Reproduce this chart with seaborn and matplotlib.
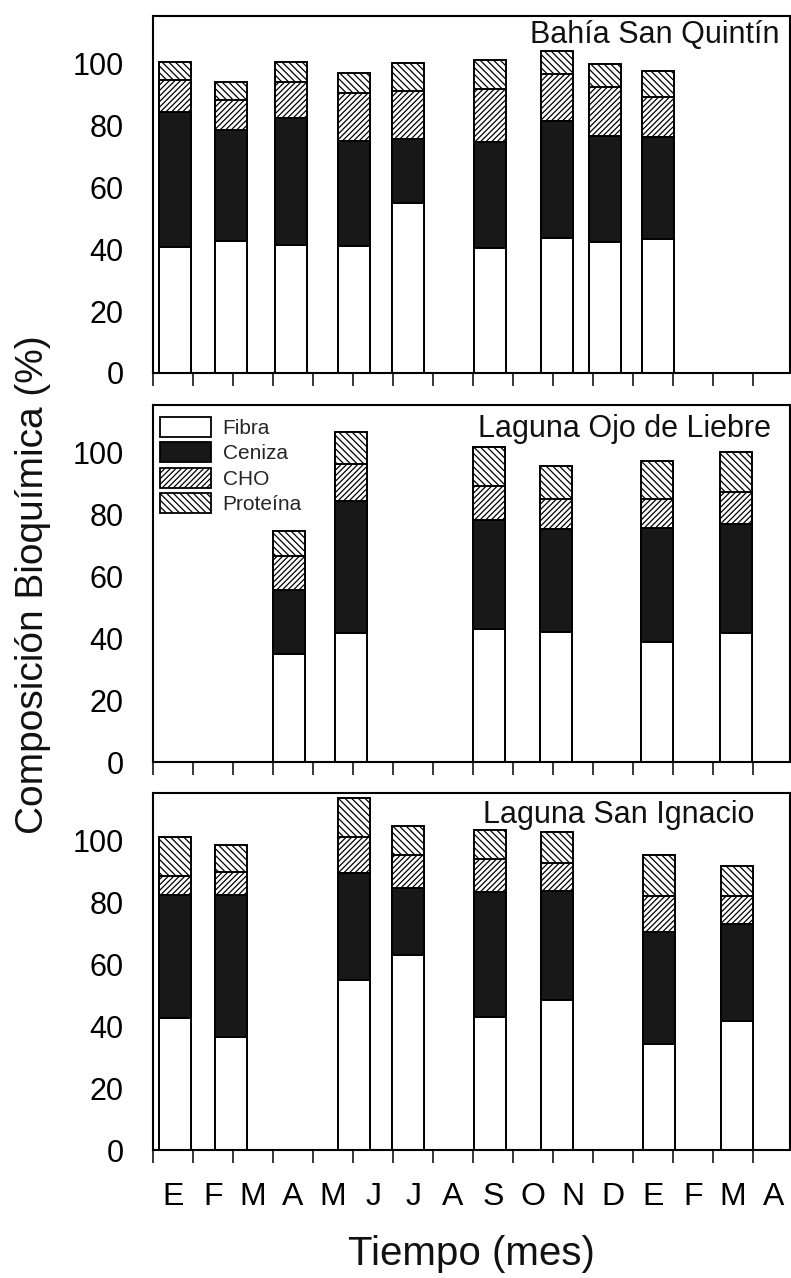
import numpy as np
import pandas as pd
import matplotlib
matplotlib.use("Agg")
import matplotlib.pyplot as plt
from matplotlib.patches import Patch
import seaborn as sns

# Month labels for the 16-month sampling period (Jan of year 1 to Apr of year 2)
meses = ["E", "F", "M", "A", "M", "J", "J", "A", "S", "O", "N", "D", "E", "F", "M", "A"]

componentes = ["Fibra", "Ceniza", "CHO", "Proteína"]

# Bahía San Quintín: sampling time (months from start) and composition (%)
bsq_t = [0.54, 1.96, 3.44, 5.02, 6.37, 8.42, 10.1, 11.3, 12.63]
bsq_fibra = [40.5, 42.7, 41.3, 40.9, 54.7, 40.3, 43.5, 42.4, 43.2]
bsq_ceniza = [43.8, 35.7, 41.0, 34.1, 20.8, 34.4, 37.9, 34.2, 32.8]
bsq_cho = [10.3, 9.8, 11.5, 15.5, 15.4, 16.9, 15.1, 15.8, 13.2]
bsq_prot = [5.8, 5.8, 6.6, 6.4, 9.1, 9.4, 7.5, 7.3, 8.1]

# Laguna Ojo de Liebre
lol_t = [3.39, 4.96, 8.40, 10.08, 12.60, 14.56]
lol_fibra = [34.7, 41.5, 42.8, 41.9, 38.8, 41.7]
lol_ceniza = [20.9, 42.7, 35.4, 33.4, 36.7, 35.0]
lol_cho = [10.8, 12.0, 10.9, 9.7, 9.5, 10.3]
lol_prot = [8.1, 10.3, 12.5, 10.6, 12.2, 13.1]

# Laguna San Ignacio
lsi_t = [0.54, 1.96, 5.02, 6.37, 8.43, 10.1, 12.64, 14.6]
lsi_fibra = [42.7, 36.4, 54.7, 62.8, 42.9, 48.5, 34.1, 41.6]
lsi_ceniza = [39.5, 46.0, 34.8, 21.6, 40.4, 35.0, 36.1, 31.2]
lsi_cho = [6.2, 7.4, 11.4, 10.8, 10.5, 9.0, 11.7, 9.1]
lsi_prot = [12.5, 8.6, 12.6, 9.4, 9.4, 10.2, 13.3, 9.7]

sitios = [
    ("Bahía San Quintín", bsq_t, bsq_fibra, bsq_ceniza, bsq_cho, bsq_prot),
    ("Laguna Ojo de Liebre", lol_t, lol_fibra, lol_ceniza, lol_cho, lol_prot),
    ("Laguna San Ignacio", lsi_t, lsi_fibra, lsi_ceniza, lsi_cho, lsi_prot),
]

sns.set_theme(style="white")
plt.rcParams["font.family"] = ["Liberation Sans", "DejaVu Sans"]
plt.rcParams["hatch.linewidth"] = 0.9
plt.rcParams["axes.edgecolor"] = "black"

W, H = 791, 1278
fig = plt.figure(figsize=(W / 100, H / 100), dpi=100)

left_px, right_px = 153, 790
panel_px = [(16, 373), (405, 762), (793, 1150)]
title_pos = [(0.984, 0.924), (0.970, 0.910), (0.944, 0.916)]

HATCH_CHO = "//////"
HATCH_PROT = "\\\\\\\\\\"
CENIZA = "#181818"

# Each layer is drawn at its cumulative height; later layers cover the lower part
capas = [
    ("Proteína", dict(color="white", hatch=HATCH_PROT)),
    ("CHO", dict(color="white", hatch=HATCH_CHO)),
    ("Ceniza", dict(color=CENIZA, hatch=None)),
    ("Fibra", dict(color="white", hatch=None)),
]

bar_width = 0.8
x_max = 15.92

for i, (nombre, t, fib, cen, cho, prot) in enumerate(sitios):
    top, bot = panel_px[i]
    ax = fig.add_axes([left_px / W, (H - bot) / H,
                       (right_px - left_px) / W, (bot - top) / H])
    df = pd.DataFrame({"t": t, "Fibra": fib, "Ceniza": cen, "CHO": cho, "Proteína": prot})
    df["cum_Fibra"] = df["Fibra"]
    df["cum_Ceniza"] = df["cum_Fibra"] + df["Ceniza"]
    df["cum_CHO"] = df["cum_Ceniza"] + df["CHO"]
    df["cum_Proteína"] = df["cum_CHO"] + df["Proteína"]

    min_gap = np.min(np.diff(np.sort(df["t"].values)))
    rel_width = bar_width / min_gap

    for comp, st in capas:
        kw = dict(edgecolor="black", linewidth=1.4)
        if st["hatch"]:
            kw["hatch"] = st["hatch"]
        sns.barplot(data=df, x="t", y="cum_" + comp, native_scale=True,
                    color=st["color"], saturation=1, width=rel_width,
                    errorbar=None, ax=ax, **kw)

    ax.set_xlim(0, x_max)
    ax.set_ylim(0, 115.2)
    ax.set_xlabel("")
    ax.set_ylabel("")
    ax.set_yticks([0, 20, 40, 60, 80, 100])
    ax.set_xticks(np.arange(0, 16))
    ax.set_xticklabels([])
    ax.set_xticks(np.arange(16) + 0.5, minor=True)
    if i == 2:
        ax.set_xticklabels(meses, minor=True)
    else:
        ax.set_xticklabels([], minor=True)
    ax.tick_params(axis="y", direction="out", length=10, width=1.3,
                   pad=11, labelsize=22, colors="black")
    ax.tick_params(axis="x", which="major", direction="out", length=9.5,
                   width=1.3, bottom=True)
    ax.tick_params(axis="x", which="minor", length=0, pad=23, labelsize=23,
                   bottom=True, colors="black")
    for sp in ax.spines.values():
        sp.set_visible(True)
        sp.set_linewidth(1.5)
        sp.set_color("black")

    tx, ty = title_pos[i]
    ax.text(tx, ty, nombre, transform=ax.transAxes, ha="right",
            va="baseline", fontsize=22, color="#111111")

    if i == 1:
        handles = [
            Patch(facecolor="white", edgecolor="black", linewidth=1.3, label="Fibra"),
            Patch(facecolor=CENIZA, edgecolor="black", linewidth=1.3, label="Ceniza"),
            Patch(facecolor="white", edgecolor="black", linewidth=1.3, hatch=HATCH_CHO, label="CHO"),
            Patch(facecolor="white", edgecolor="black", linewidth=1.3, hatch=HATCH_PROT, label="Proteína"),
        ]
        ax.legend(handles=handles, loc="upper left", bbox_to_anchor=(0.011, 0.966),
                  frameon=False, fontsize=15, handlelength=2.45, handleheight=1.1,
                  handletextpad=0.55, labelspacing=0.2, borderpad=0, borderaxespad=0)

fig.text(33 / W, 1 - 585 / H, "Composición Bioquímica (%)", rotation=90,
         ha="center", va="center", fontsize=28, color="#111111")
fig.text((left_px + right_px) / 2 / W, 1 - 1265 / H, "Tiempo (mes)",
         ha="center", va="baseline", fontsize=29, color="#111111")

fig.savefig("out.png", dpi=100, facecolor="white")
